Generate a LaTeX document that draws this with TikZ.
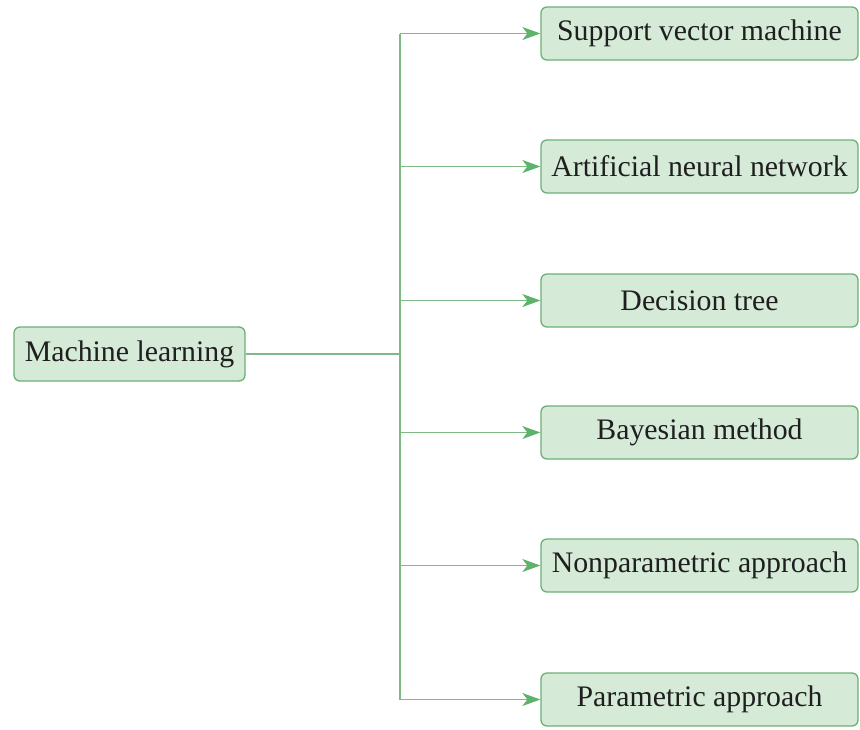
\documentclass[tikz,border=0pt]{standalone}
\usepackage{fontspec}
\setmainfont{Liberation Serif}
\usetikzlibrary{arrows.meta}
\definecolor{boxfill}{HTML}{D5EBD8}
\definecolor{boxline}{HTML}{6DAF78}
\definecolor{wire}{HTML}{7DBA84}
\definecolor{tipgreen}{HTML}{5DB36A}
\begin{document}
\begin{tikzpicture}[x=1pt,y=-1pt,
  mlbox/.style={draw=boxline, fill=boxfill, line width=1.3pt, rounded corners=6pt,
    inner sep=0pt, font=\fontsize{29.8}{32}\selectfont, text=black!88},
  wireline/.style={draw=wire, line width=1.3pt},
  arrowline/.style={wireline, -{Stealth[length=18pt,width=13pt,inset=5pt,color=tipgreen]}}]
  \useasboundingbox (0,0) rectangle (860,729);
  \node[mlbox, minimum width=231pt, minimum height=54pt] (ml) at (129.5,354) {Machine learning};
  \coordinate (bus) at (400,354);
  \foreach \name/\y/\txt in {svm/33.5/Support vector machine, ann/166.5/Artificial neural network,
      dt/300.5/Decision tree, bm/432.5/Bayesian method,
      np/565.5/Nonparametric approach, pa/699.5/Parametric approach} {
    \node[mlbox, minimum width=317pt, minimum height=53pt] (\name) at (699.5,\y) {\txt};
    \coordinate (\name-tap) at (400,\y);
    \draw[arrowline] (\name-tap) -- (\name.west);
  }
  \draw[wireline] (ml.east) -- (bus);
  \draw[wireline] (svm-tap) -- (pa-tap);
\end{tikzpicture}
\end{document}
